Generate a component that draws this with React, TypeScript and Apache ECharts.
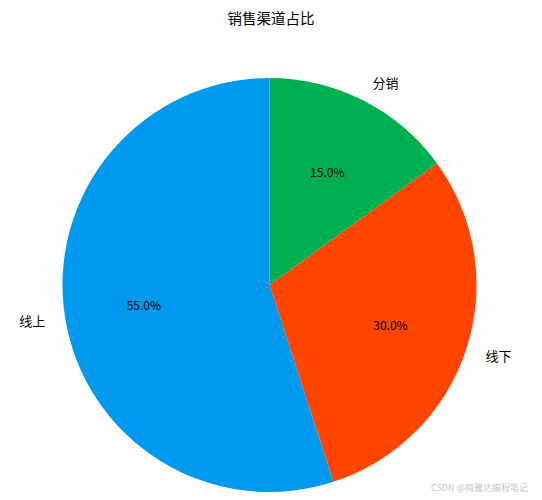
import { useEffect, useRef } from 'react';
import * as echarts from 'echarts';

const channels = ['线上', '线下', '分销'];
const shares = [55, 30, 15];
const colors = ['#0099F0', '#FF4500', '#00B050'];

const CJK = '"Noto Sans CJK SC", "Noto Sans", sans-serif';
const R = 207;

export default function App() {
  const ref = useRef<HTMLDivElement>(null);

  useEffect(() => {
    const dom = ref.current!;
    const chart = echarts.init(dom, undefined, { renderer: 'svg' });

    const data = channels.map((name, i) => ({
      name,
      value: shares[i],
      itemStyle: { color: colors[i] },
    }));

    chart.setOption({
      animation: false,
      backgroundColor: '#fff',
      title: {
        text: '销售渠道占比',
        left: 'center',
        top: 5,
        textStyle: { fontFamily: CJK, fontSize: 14.5, fontWeight: 'normal', color: '#000' },
      },
      graphic: [
        {
          type: 'text',
          right: 14,
          bottom: 8,
          style: { text: 'CSDN @梅雅达编程笔记', fontFamily: CJK, fontSize: 9, fill: '#c8c8c8' },
        },
      ],
      series: [
        {
          type: 'pie',
          center: [269.5, 285],
          radius: [0, R],
          startAngle: 90,
          clockwise: false,
          avoidLabelOverlap: false,
          silent: true,
          data,
          label: {
            position: 'outside',
            formatter: '{b}',
            fontFamily: CJK,
            fontSize: 13,
            color: '#000',
            distanceToLabelLine: 0,
          },
          labelLine: { show: false, length: 20, length2: 0 },
        },
        {
          type: 'pie',
          center: [269.5, 285],
          radius: [R * 0.2, R],
          startAngle: 90,
          clockwise: false,
          avoidLabelOverlap: false,
          silent: true,
          data: data.map((d) => ({ ...d, itemStyle: { color: 'rgba(0,0,0,0)' } })),
          label: {
            position: 'inside',
            formatter: (p: any) => `${Number(p.percent).toFixed(1)}%`,
            fontFamily: CJK,
            fontSize: 12,
            color: '#000',
          },
          labelLine: { show: false },
        },
      ],
    } as echarts.EChartsOption);

    return () => {
      chart.dispose();
    };
  }, []);

  return <div ref={ref} style={{ position: 'fixed', left: 0, top: 0, width: 542, height: 500 }} />;
}
